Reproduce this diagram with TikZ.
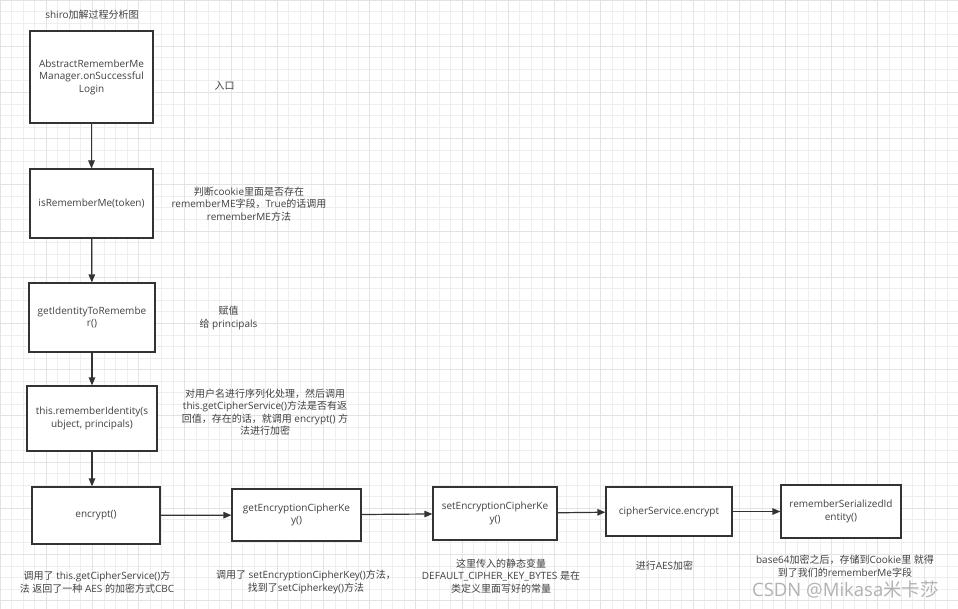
\documentclass[tikz,border=0pt]{standalone}
\usepackage{fontspec}
\usepackage{xcolor}
\usepackage{tikz}
\usetikzlibrary{arrows.meta}

\setmainfont{Open Sans}
\newfontfamily\cjkfont{Noto Sans CJK SC}

% switch to the CJK font for Han characters and CJK punctuation
\newXeTeXintercharclass\hanclass
\makeatletter
\count@="4E00
\loop \XeTeXcharclass\count@=\hanclass
  \ifnum\count@<"9FFF \advance\count@ by 1 \repeat
\count@="3000
\loop \XeTeXcharclass\count@=\hanclass
  \ifnum\count@<"303F \advance\count@ by 1 \repeat
\count@="FF00
\loop \XeTeXcharclass\count@=\hanclass
  \ifnum\count@<"FFEF \advance\count@ by 1 \repeat
\makeatother
\XeTeXinterchartokenstate=1
\XeTeXinterchartoks 0 \hanclass = {\begingroup\cjkfont}
\XeTeXinterchartoks 4095 \hanclass = {\begingroup\cjkfont}
\XeTeXinterchartoks \hanclass 0 = {\endgroup}
\XeTeXinterchartoks \hanclass 4095 = {\endgroup}

\definecolor{linegray}{HTML}{333333}
\definecolor{txtgray}{HTML}{404040}
\definecolor{gridminor}{HTML}{EEEEEE}
\definecolor{gridmajor}{HTML}{E3E3E3}

\begin{document}
\begin{tikzpicture}[
    x=1bp, y=-1bp,
    every node/.style={
        text=txtgray, font=\fontsize{10bp}{12.5bp}\selectfont
    },
    block/.style={
        rectangle, draw=linegray, line width=1.2bp, fill=white,
        align=center, inner sep=2bp
    },
    note/.style={align=center, inner sep=0pt},
    arrow/.style={-{Triangle[length=8bp,width=6.5bp]}, draw=linegray, line width=1.2bp}
]

% Background grid
\useasboundingbox (0,0) rectangle (958,609);
\fill[white] (0,0) rectangle (958,609);
\foreach \i in {0,...,83} {
    \draw[gridminor, line width=0.8bp] (\i*11.55,0) -- (\i*11.55,609);
}
\foreach \i in {0,...,53} {
    \draw[gridminor, line width=0.8bp] (0,\i*11.55) -- (958,\i*11.55);
}
\foreach \i in {0,...,20} {
    \draw[gridmajor, line width=0.9bp] (\i*46.2,0) -- (\i*46.2,609);
}
\foreach \i in {0,...,13} {
    \draw[gridmajor, line width=0.9bp] (0,\i*46.2) -- (958,\i*46.2);
}

% Title
\node[note] (title) at (92,15) {shiro加解过程分析图};

% Column: call chain
\node[block, minimum width=123bp, minimum height=92bp] (mgr) at (91.5,77)
    {AbstractRememberMe\\Manager.onSuccessful\\Login};
\node[block, minimum width=123bp, minimum height=69bp] (isrm) at (91.5,203.5)
    {isRememberMe(token)};
\node[block, minimum width=126bp, minimum height=69bp] (getid) at (92,317.5)
    {getIdentityToRemembe\\r()};
\node[block, minimum width=130bp, minimum height=65bp] (remid) at (92,418.5)
    {this.rememberIdentity(s\\ubject, principals)};

% Row: encryption
\node[block, minimum width=128bp, minimum height=57bp] (enc) at (96,515.5)
    {encrypt()};
\node[block, minimum width=129bp, minimum height=52bp] (getkey) at (296.5,515)
    {getEncryptionCipherKe\\y()};
\node[block, minimum width=124bp, minimum height=53bp] (setkey) at (495,513.5)
    {setEncryptionCipherKe\\y()};
\node[block, minimum width=126bp, minimum height=49bp] (cipher) at (669,511.5)
    {cipherService.encrypt};
\node[block, minimum width=120bp, minimum height=53bp] (serial) at (841,511.5)
    {rememberSerializedId\\entity()};

% Notes
\node[note] (nmgr) at (224.5,86) {入口};
\node[note] (nisrm) at (249,204)
    {判断cookie里面是否存在\\rememberME字段，True的话调用\\rememberME方法};
\node[note] (ngetid) at (228.5,318) {赋值\\给 principals};
\node[note] (nremid) at (265,412)
    {对用户名进行序列化处理，然后调用\\this.getCipherService()方法是否有返\\回值，存在的话，就调用 encrypt() 方\\法进行加密};
\node[note] (nenc) at (97,582)
    {调用了 this.getCipherService()方\\法 返回了一种 AES 的加密方式CBC};
\node[note] (ngetkey) at (306,582)
    {调用了 setEncryptionCipherKey()方法，\\找到了setCipherkey()方法};
\node[note] (nsetkey) at (501,576)
    {这里传入的静态变量\\DEFAULT\_CIPHER\_KEY\_BYTES 是在\\类定义里面写好的常量};
\node[note] (ncipher) at (664.5,566) {进行AES加密};
\node[note] (nserial) at (845,566)
    {base64加密之后，存储到Cookie里 就得\\到了我们的rememberMe字段};

% Watermark
\node[note, text=gray!60, font=\fontsize{18.5bp}{20bp}\selectfont] (mark) at (845.5,590)
    {CSDN @Mikasa米卡莎};

% Arrows
\draw[arrow] (mgr) -- (isrm);
\draw[arrow] (isrm) -- (getid);
\draw[arrow] (getid) -- (remid);
\draw[arrow] (remid.south) -- (remid.south |- enc.north);
\draw[arrow] (enc) -- (getkey);
\draw[arrow] (getkey) -- (setkey);
\draw[arrow] (setkey) -- (cipher);
\draw[arrow] (cipher) -- (serial);

\end{tikzpicture}
\end{document}
